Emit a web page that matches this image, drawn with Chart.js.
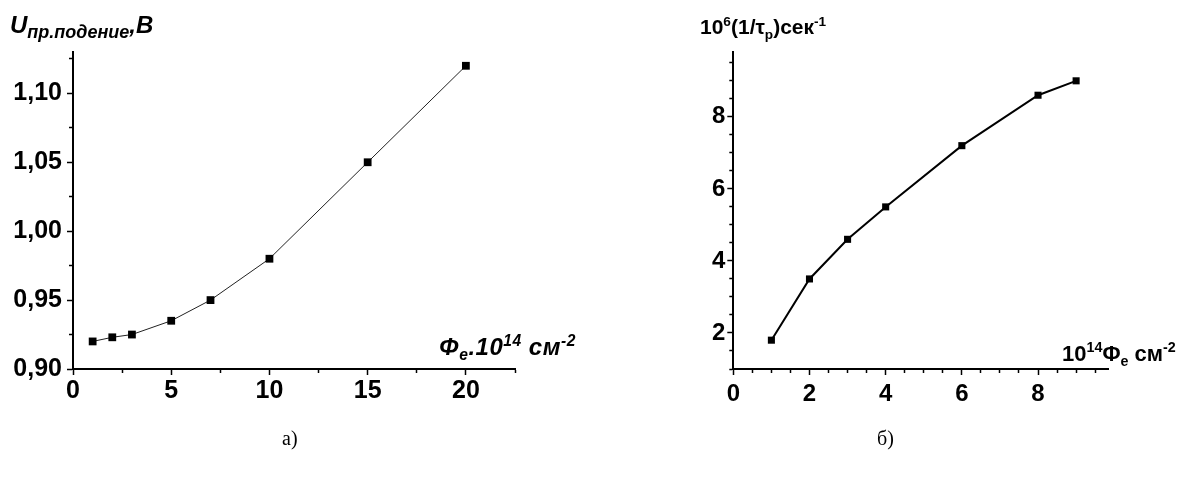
<!DOCTYPE html>
<html>
<head>
<meta charset="utf-8">
<script src="https://cdn.jsdelivr.net/npm/chart.js"></script>
<style>
  body { margin: 0; background: #fff; width: 1177px; height: 477px; position: relative; overflow: hidden;
         font-family: "Liberation Sans", Arial, sans-serif; }
  canvas { position: absolute; top: 0; }
  #c1 { left: 0; }
  #c2 { left: 590px; }
  .lbl { position: absolute; white-space: nowrap; font-weight: bold; color: #000; line-height: 1; }
  .lbl sub, .lbl sup { font-size: 0.65em; line-height: 0; position: relative; vertical-align: baseline; }
  .lbl sub { top: 0.35em; }
  .lbl sup { top: -0.6em; }
  .cap { position: absolute; font: 20px "Liberation Serif", "Times New Roman", serif; line-height: 1; }
</style>
</head>
<body>
<canvas id="c1" width="590" height="477"></canvas>
<canvas id="c2" width="587" height="477"></canvas>

<div class="lbl" style="left:10px; top:13px; font-size:24px; font-style:italic;">U<sub style="font-size:18px; top:5px;">пр.подение</sub>,B</div>
<div class="lbl" style="left:439px; top:335px; font-size:24px; font-style:italic; letter-spacing:0.5px;">Φ<sub>e</sub>.10<sup>14</sup>&nbsp;см<sup>-2</sup></div>
<div class="lbl" style="left:700px; top:16px; font-size:21px;">10<sup>6</sup>(1/τ<sub>p</sub>)сек<sup>-1</sup></div>
<div class="lbl" style="left:1062px; top:343px; font-size:22px;">10<sup>14</sup>Φ<sub>e</sub> см<sup>-2</sup></div>
<div class="cap" style="left:282px; top:428px;">а)</div>
<div class="cap" style="left:877px; top:428px;">б)</div>

<script>
// panel а)
const leftX = [1, 2, 3, 5, 7, 10, 15, 20];
const leftY = [0.92, 0.923, 0.925, 0.935, 0.95, 0.98, 1.05, 1.12];
const leftXTicks = [0, 5, 10, 15, 20];
const leftYTicks = [0.90, 0.95, 1.00, 1.05, 1.10];

// panel б)
const rightX = [1, 2, 3, 4, 6, 8, 9];
const rightY = [1.8, 3.5, 4.6, 5.5, 7.2, 8.6, 9.0];
const rightXTicks = [0, 2, 4, 6, 8];
const rightYTicks = [2, 4, 6, 8];

function isMajor(v, majors) {
  return majors.some(m => Math.abs(m - v) < 1e-6);
}

function axis(o) {
  return {
    type: "linear",
    min: o.min,
    max: o.max,
    afterFit: (s) => { if (o.w) s.width = o.w; if (o.h) s.height = o.h; },
    border: { display: true, color: "#000", width: 2 },
    grid: {
      drawOnChartArea: false,
      drawTicks: true,
      tickLength: 6,
      tickColor: "#000",
      tickWidth: 1.5,
      tickBorderDash: (ctx) => isMajor(ctx.tick.value, o.majors) ? [] : o.minorDash,
    },
    ticks: {
      stepSize: o.step,
      includeBounds: false,
      autoSkip: false,
      maxRotation: 0,
      color: "#000",
      padding: o.pad,
      font: o.font,
      callback: (v) => isMajor(v, o.majors) ? o.fmt(v) : "",
    },
  };
}

function makeChart(id, xs, ys, line, scales, padding) {
  new Chart(document.getElementById(id), {
    type: "line",
    data: {
      datasets: [{
        data: xs.map((x, i) => ({ x: x, y: ys[i] })),
        borderColor: line.color,
        borderWidth: line.width,
        tension: 0,
        pointStyle: "rect",
        pointRadius: line.radius,
        pointBackgroundColor: "#000",
        pointBorderWidth: 0,
        clip: false,
      }],
    },
    options: {
      responsive: false,
      devicePixelRatio: 1,
      animation: false,
      layout: { padding: padding },
      plugins: { legend: { display: false }, tooltip: { enabled: false } },
      scales: scales,
    },
  });
}

const boldA = { family: "'Liberation Sans', Arial, sans-serif", size: 25, weight: "bold" };
const boldB = { family: "'Liberation Sans Narrow', 'Liberation Sans', Arial, sans-serif", size: 24, weight: "bold" };

makeChart("c1", leftX, leftY, { color: "#222", width: 1, radius: 5.5 }, {
  x: axis({ min: 0, max: 22.5, step: 2.5, majors: leftXTicks, h: 40, pad: 1, font: boldA,
            minorDash: [3, 100], fmt: (v) => String(v) }),
  y: axis({ min: 0.9, max: 1.13, step: 0.025, majors: leftYTicks, w: 73, pad: 5, font: boldA,
            minorDash: [0, 2, 3, 100], fmt: (v) => v.toFixed(2).replace(".", ",") }),
}, { left: 0, top: 52, right: 75, bottom: 68 });

makeChart("c2", rightX, rightY, { color: "#000", width: 2, radius: 5 }, {
  x: axis({ min: 0, max: 9.85, step: 0.5, majors: rightXTicks, h: 40, pad: 5, font: boldB,
            minorDash: [3, 100], fmt: (v) => String(v) }),
  y: axis({ min: 1, max: 9.8, step: 0.5, majors: rightYTicks, w: 143.3, pad: 2, font: boldB,
            minorDash: [0, 2, 3, 100], fmt: (v) => String(v) }),
}, { left: 0, top: 52, right: 68.5, bottom: 68 });
</script>
</body>
</html>
